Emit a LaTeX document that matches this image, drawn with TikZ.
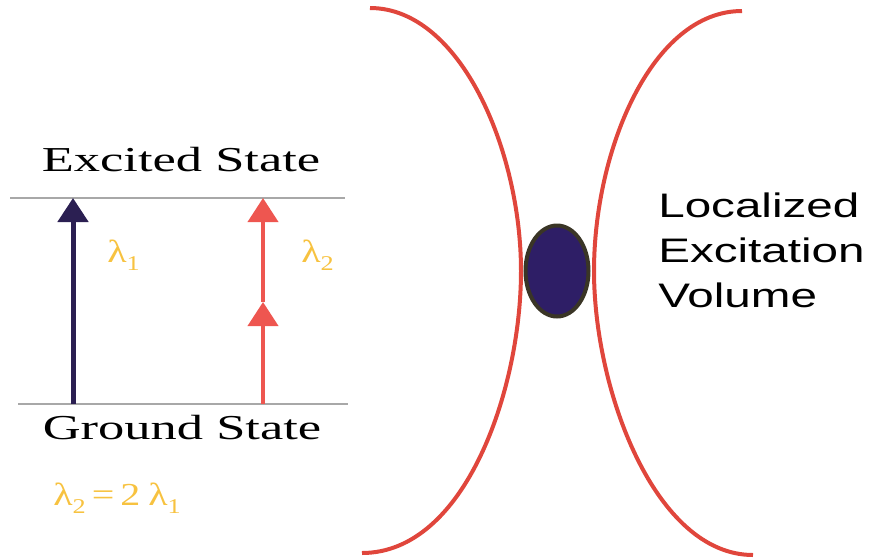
\documentclass[tikz,border=0pt]{standalone}
\usepackage{fontspec}
\setmainfont{Liberation Serif}
\newfontfamily\labelsans{Liberation Sans}
\usetikzlibrary{positioning, arrows.meta, shapes.geometric}
\definecolor{levelgray}{HTML}{A8A8A8}
\definecolor{pumpdark}{HTML}{2B1F52}
\definecolor{pumpred}{HTML}{EE5650}
\definecolor{lambdagold}{HTML}{F7C240}
\definecolor{beamred}{HTML}{E0463C}
\definecolor{spotfill}{HTML}{2E1E66}
\definecolor{spotrim}{HTML}{3A3526}
\newcommand{\lsub}[1]{\raisebox{-0.28em}{\fontsize{21}{22}\selectfont #1}}

\begin{document}
\begin{tikzpicture}[
  x=1pt, y=-1pt,
  statelabel/.style={font=\fontsize{35}{40}\selectfont, xscale=1.5, anchor=base, inner sep=0pt},
  lambda/.style={font=\fontsize{32}{34}\selectfont, text=lambdagold, xscale=1.25, anchor=base west, inner sep=0pt},
  level/.style={draw=levelgray, line width=1.5pt},
  darkarrow/.style={-{Triangle[length=24pt, width=30pt]}, line width=5pt, draw=pumpdark, fill=pumpdark},
  redarrow/.style={-{Triangle[length=24pt, width=30pt]}, line width=4pt, draw=pumpred, fill=pumpred},
  beam/.style={draw=beamred, line width=4pt}
]
\useasboundingbox (0,0) rectangle (889,558);

% Energy levels
\coordinate (exL) at (10,198);
\coordinate (exR) at (345,198);
\coordinate (grL) at (18,404);
\coordinate (grR) at (348,404);
\draw[level] (exL) -- (exR);
\draw[level] (grL) -- (grR);

\node[statelabel] (excited) at (181,171) {Excited State};
\node[statelabel] (ground) at (182,439) {Ground State};

% One-photon and two-photon transitions
\coordinate (oneBot) at (73,404);
\coordinate (oneTop) at (73,198);
\coordinate (twoBot) at (263,404);
\coordinate (twoMid) at (263,302);
\coordinate (twoTop) at (263,198);
\draw[darkarrow] (oneBot) -- (oneTop);
\draw[redarrow] (twoBot) -- (twoMid);
\draw[redarrow] (twoMid) -- (twoTop);

\node[lambda] (lamA) at (107,262) {λ\lsub{1}};
\node[lambda] (lamB) at (301,262) {λ\lsub{2}};
\node[lambda] (relation) at (53,505)
  {λ\lsub{2}\hspace{0.15em}=\hspace{0.15em}2\hspace{0.2em}λ\lsub{1}};

% Focused beam
\coordinate (leftTop) at (370,8);
\coordinate (leftWaist) at (521,271);
\coordinate (leftBot) at (362,553);
\coordinate (rightTop) at (742,11);
\coordinate (rightWaist) at (594,271);
\coordinate (rightBot) at (753,555);
\draw[beam] (leftTop) .. controls (460,8) and (521,150) .. (leftWaist)
  .. controls (521,390) and (465,553) .. (leftBot);
\draw[beam] (rightTop) .. controls (652,11) and (594,150) .. (rightWaist)
  .. controls (594,390) and (655,555) .. (rightBot);

\node[ellipse, draw=spotrim, line width=4pt, fill=spotfill,
  minimum width=63pt, minimum height=91pt, inner sep=0pt] (spot) at (557,271) {};

\node[font=\labelsans\fontsize{34}{45}\selectfont, xscale=1.4, align=left,
  anchor=base west, inner sep=0pt] (volume) at (658,307)
  {Localized\\Excitation\\Volume};

\end{tikzpicture}
\end{document}
